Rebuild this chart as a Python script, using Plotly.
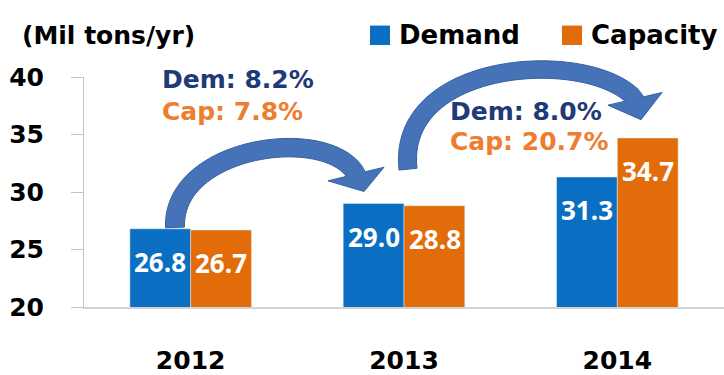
import plotly.graph_objects as go

# ---- data ----
years = ["2012", "2013", "2014"]
demand = [26.8, 29.0, 31.3]
capacity = [26.7, 28.8, 34.7]
growth_dem = ["8.2%", "8.0%"]
growth_cap = ["7.8%", "20.7%"]
y_ticks = [20, 25, 30, 35, 40]

BLUE = "#0A6FC2"
ORANGE = "#E36C0A"
NAVY = "#1F3A78"
ORANGE_TXT = "#EE7D30"
ARROW_FILL = "#4673B8"
ARROW_EDGE = "#34609F"

W, H = 724, 375
ML, MR, MT, MB = 84, 0, 77, 61
PW, PH = W - ML - MR, H - MT - MB


def to_paper(px, py):
    return (px - ML) / PW, (H - MB - py) / PH


def bez(p, t):
    a = (1 - t) ** 3
    b = 3 * (1 - t) ** 2 * t
    c = 3 * (1 - t) * t ** 2
    d = t ** 3
    return (a * p[0][0] + b * p[1][0] + c * p[2][0] + d * p[3][0],
            a * p[0][1] + b * p[1][1] + c * p[2][1] + d * p[3][1])


def bez_d(p, t):
    a = 3 * (1 - t) ** 2
    b = 6 * (1 - t) * t
    c = 3 * t ** 2
    return (a * (p[1][0] - p[0][0]) + b * (p[2][0] - p[1][0]) + c * (p[3][0] - p[2][0]),
            a * (p[1][1] - p[0][1]) + b * (p[2][1] - p[1][1]) + c * (p[3][1] - p[2][1]))


def curved_arrow(p0, p1, p2, base_a, base_b, tip, width):
    """Block arrow along a cubic curve, ending in a triangular head (pixel coords)."""
    ex, ey = (base_a[0] + base_b[0]) / 2, (base_a[1] + base_b[1]) / 2
    pts = [p0, p1, p2, (ex, ey)]
    n_s = 48
    left, right = [], []
    for i in range(n_s + 1):
        t = i / n_s
        cx, cy = bez(pts, t)
        dx, dy = bez_d(pts, t)
        ln = (dx * dx + dy * dy) ** 0.5
        nx, ny = -dy / ln, dx / ln
        left.append((cx + nx * width / 2, cy + ny * width / 2))
        right.append((cx - nx * width / 2, cy - ny * width / 2))
    # head base direction, oriented like the end normal
    ux, uy = base_a[0] - base_b[0], base_a[1] - base_b[1]
    ul = (ux * ux + uy * uy) ** 0.5
    ux, uy = ux / ul, uy / ul
    ha, hb = base_a, base_b
    if ux * nx + uy * ny < 0:
        ux, uy = -ux, -uy
        ha, hb = base_b, base_a
    left[-1] = (ex + ux * width / 2, ey + uy * width / 2)
    right[-1] = (ex - ux * width / 2, ey - uy * width / 2)
    poly = left + [ha, tip, hb] + right[::-1]
    coords = [to_paper(x, y) for x, y in poly]
    return "M " + " L ".join(f"{x:.5f},{y:.5f}" for x, y in coords) + " Z"


fig = go.Figure()
fig.add_trace(go.Bar(x=years, y=demand, name="Demand", marker_color=BLUE,
                     showlegend=False))
fig.add_trace(go.Bar(x=years, y=capacity, name="Capacity", marker_color=ORANGE,
                     showlegend=False))

axis_font = dict(family="DejaVu Sans", size=25, color="#000000", weight="bold")

fig.update_layout(
    width=W, height=H,
    margin=dict(l=ML, r=MR, t=MT, b=MB),
    paper_bgcolor="white", plot_bgcolor="rgba(0,0,0,0)",
    barmode="group", bargap=0.43, bargroupgap=0,
    xaxis=dict(type="category", showgrid=False, showline=True, linecolor="#D3D3D3",
               linewidth=2, ticks="", tickfont=axis_font, ticklabelstandoff=30,
               range=[-0.5, 2.5]),
    yaxis=dict(range=[20, 40], tickvals=y_ticks, showgrid=False, zeroline=False,
               showline=True, linecolor="#C4C4C4", linewidth=1,
               ticks="outside", ticklen=12, tickcolor="#C4C4C4",
               tickfont=axis_font, ticklabelstandoff=22),
)

# curved growth arrows
arrows = [
    dict(p0=(175, 232), p1=(172, 148), p2=(327, 126),
         a=(328, 184), b=(384, 170), tip=(364, 195), w=19),
    dict(p0=(408, 172), p1=(396, 58), p2=(590, 47),
         a=(608, 106), b=(662, 93), tip=(641, 121), w=18),
]
for ar in arrows:
    fig.add_shape(type="path", xref="paper", yref="paper", layer="above",
                  path=curved_arrow(ar["p0"], ar["p1"], ar["p2"], ar["a"], ar["b"],
                                    ar["tip"], ar["w"]),
                  fillcolor=ARROW_FILL, line=dict(color=ARROW_EDGE, width=1))

# value labels inside the top of each bar (category index + pixel offset)
val_font = dict(family="Open Sans", size=26, color="white", weight="bold")
for series, shift in ((demand, -30.5), (capacity, 30.5)):
    for i, v in enumerate(series):
        fig.add_annotation(x=i, y=v, xref="x", yref="y", text=f"{v:.1f}",
                           showarrow=False, xshift=shift, yshift=-33,
                           xanchor="center", yanchor="middle", font=val_font)

# unit title
tx, ty = to_paper(20, 34)
fig.add_annotation(x=tx, y=ty, xref="paper", yref="paper", text="(Mil tons/yr)",
                   showarrow=False, xanchor="left", yanchor="middle",
                   font=dict(family="DejaVu Sans", size=25, color="#000", weight="bold"))

# legend
legend_items = [("Demand", BLUE, 370, 400), ("Capacity", ORANGE, 562, 592)]
for name, col, sq_x, txt_x in legend_items:
    x0, y0 = to_paper(sq_x, 44)
    x1, y1 = to_paper(sq_x + 20, 24)
    fig.add_shape(type="rect", xref="paper", yref="paper", x0=x0, y0=y0, x1=x1, y1=y1,
                  fillcolor=col, line=dict(width=0), layer="above")
    lx, ly = to_paper(txt_x - 3, 34)
    fig.add_annotation(x=lx, y=ly, xref="paper", yref="paper", text=name,
                       showarrow=False, xanchor="left", yanchor="middle",
                       font=dict(family="DejaVu Sans", size=26, color="#000",
                                 weight="bold"))

# growth rates
growth_pos = [(160, 80, 113), (448, 113, 143)]
for (gx, gy_d, gy_c), gd, gc in zip(growth_pos, growth_dem, growth_cap):
    for txt, col, gy in ((f"Dem: {gd}", NAVY, gy_d), (f"Cap: {gc}", ORANGE_TXT, gy_c)):
        ax_, ay_ = to_paper(gx, gy)
        fig.add_annotation(x=ax_, y=ay_, xref="paper", yref="paper", text=txt,
                           showarrow=False, xanchor="left", yanchor="middle",
                           font=dict(family="DejaVu Sans", size=25, color=col,
                                     weight="bold"))

fig.write_html("out.html")
